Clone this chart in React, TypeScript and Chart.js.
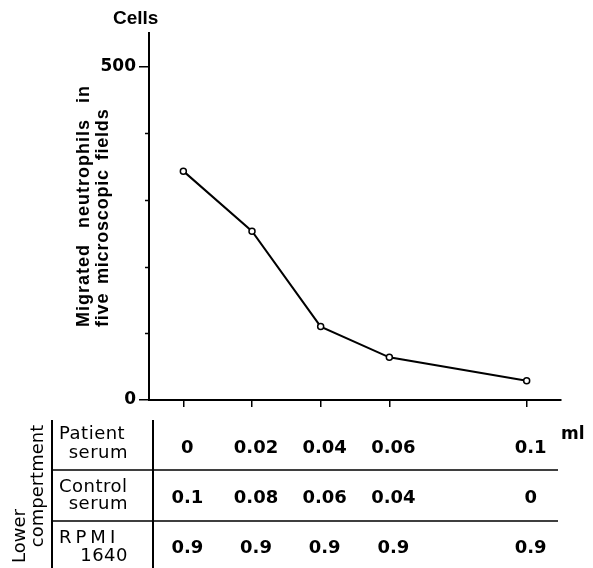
import React, { useEffect, useRef } from "react";
import { Chart, registerables } from "chart.js";

Chart.register(...registerables);

// Patient serum in lower compartment (ml) – x positions
const doses = [0, 0.02, 0.04, 0.06, 0.1];
// Migrated neutrophils in five microscopic fields (cells)
const migratedCells = [343, 253, 110, 64, 29];
const yMajorTicks = [0, 500];
const yMinorTicks = [100, 200, 300, 400];
// Table rows
const rowLabels = [
  ["Patient", "serum"],
  ["Control", "serum"],
  ["RPMI", "1640"],
];
const patientSerum = ["0", "0.02", "0.04", "0.06", "0.1"];
const controlSerum = ["0.1", "0.08", "0.06", "0.04", "0"];
const rpmi1640 = ["0.9", "0.9", "0.9", "0.9", "0.9"];

const W = 593;
const H = 568;

const overlay = {
  id: "overlay",
  afterDraw(chart: any) {
    const ctx = chart.ctx as CanvasRenderingContext2D;
    const x = chart.scales.x;
    const y = chart.scales.y;
    ctx.save();
    ctx.fillStyle = "#000";
    ctx.strokeStyle = "#000";

    // minor y ticks
    ctx.lineWidth = 1.5;
    const axisX = chart.chartArea.left;
    yMinorTicks.forEach((v) => {
      const py = Math.round(y.getPixelForValue(v)) + 0.5;
      ctx.beginPath();
      ctx.moveTo(axisX - 4, py);
      ctx.lineTo(axisX, py);
      ctx.stroke();
    });

    // "Cells"
    ctx.font = 'bold 19px "Liberation Sans"';
    ctx.textAlign = "left";
    ctx.textBaseline = "alphabetic";
    ctx.fillText("Cells", 113, 24);

    // y title (rotated)
    ctx.save();
    ctx.font = 'bold 18px "Liberation Sans"';
    ctx.textAlign = "left";
    const yt = [
      ["Migrated neutrophils in", 89, "1px", "10px"],
      ["five microscopic fields", 108, "0.8px", "3px"],
    ] as [string, number, string, string][];
    yt.forEach(([t, bx, ls, ws]) => {
      ctx.save();
      (ctx as any).letterSpacing = ls;
      (ctx as any).wordSpacing = ws;
      ctx.translate(bx, 327);
      ctx.rotate(-Math.PI / 2);
      ctx.fillText(t, 0, 0);
      ctx.restore();
    });
    ctx.restore();

    // Lower compertment (rotated)
    ctx.save();
    ctx.font = '18px "DejaVu Sans"';
    ctx.textAlign = "center";
    const lc = [
      ["Lower", 25, 536],
      ["compertment", 43, 486],
    ] as [string, number, number][];
    lc.forEach(([t, bx, cy]) => {
      ctx.save();
      ctx.translate(bx, cy);
      ctx.rotate(-Math.PI / 2);
      ctx.fillText(t, 0, 0);
      ctx.restore();
    });
    ctx.restore();

    // table lines
    ctx.lineWidth = 2;
    ctx.beginPath();
    ctx.moveTo(52, 420);
    ctx.lineTo(52, H);
    ctx.moveTo(153, 420);
    ctx.lineTo(153, H);
    ctx.stroke();
    ctx.lineWidth = 1.5;
    ctx.beginPath();
    ctx.moveTo(52, 470);
    ctx.lineTo(558, 470);
    ctx.moveTo(52, 521);
    ctx.lineTo(558, 521);
    ctx.stroke();

    // row labels
    ctx.save();
    ctx.font = '18px "DejaVu Sans"';
    (ctx as any).letterSpacing = "0.5px";
    const rowTop = [439, 492, 543];
    const rowBot = [458, 509, 561];
    rowLabels.forEach((pair, i) => {
      ctx.textAlign = "left";
      if (pair[0] === "RPMI") {
        (ctx as any).letterSpacing = "4px";
        ctx.fillText(pair[0], 59, rowTop[i]);
        (ctx as any).letterSpacing = "0.5px";
      } else {
        ctx.fillText(pair[0], 59, rowTop[i]);
      }
      ctx.textAlign = "right";
      ctx.fillText(pair[1], 128, rowBot[i]);
    });
    ctx.restore();

    // values
    ctx.save();
    ctx.font = 'bold 18px "DejaVu Sans"';
    ctx.textAlign = "center";
    const rows = [patientSerum, controlSerum, rpmi1640];
    const baselines = [453, 503, 553];
    rows.forEach((r, i) => {
      r.forEach((t, j) => {
        ctx.fillText(t, x.getPixelForValue(doses[j]) + 4, baselines[i]);
      });
    });
    ctx.restore();

    // ml
    ctx.font = 'bold 17px "DejaVu Sans"';
    ctx.textAlign = "left";
    ctx.fillText("ml", 561, 439);

    ctx.restore();
  },
};

export default function App() {
  const ref = useRef<HTMLCanvasElement | null>(null);
  useEffect(() => {
    if (!ref.current) return;
    const chart = new Chart(ref.current, {
      type: "line",
      data: {
        datasets: [
          {
            data: doses.map((d, i) => ({ x: d, y: migratedCells[i] })),
            borderColor: "#000",
            borderWidth: 2,
            pointRadius: 3,
            pointBackgroundColor: "#fff",
            pointBorderColor: "#000",
            pointBorderWidth: 1.5,
            tension: 0,
            fill: false,
          },
        ],
      },
      options: {
        responsive: false,
        animation: false,
        devicePixelRatio: 1,
        layout: { padding: { top: 33, right: 32, left: 0, bottom: 0 } },
        plugins: { legend: { display: false }, tooltip: { enabled: false } },
        scales: {
          x: {
            type: "linear",
            min: -0.01,
            max: 0.11,
            afterFit(scale: any) {
              scale.height = 168;
            },
            afterBuildTicks(scale: any) {
              scale.ticks = doses.map((v) => ({ value: v }));
            },
            ticks: { autoSkip: false, callback: () => "", padding: 0 },
            grid: {
              display: true,
              drawOnChartArea: false,
              drawTicks: true,
              tickLength: 7,
              color: "#000",
              lineWidth: 1.5,
            },
            border: { display: true, color: "#000", width: 2 },
          },
          y: {
            type: "linear",
            min: 0,
            max: 550,
            afterFit(scale: any) {
              scale.width = 149;
            },
            afterBuildTicks(scale: any) {
              scale.ticks = yMajorTicks.map((v) => ({ value: v }));
            },
            ticks: {
              autoSkip: false,
              color: "#000",
              padding: 3,
              font: { family: "DejaVu Sans", weight: "bold", size: 17 },
            },
            grid: {
              display: true,
              drawOnChartArea: false,
              drawTicks: true,
              tickLength: 10,
              color: "#000",
              lineWidth: 1.5,
            },
            border: { display: true, color: "#000", width: 2 },
          },
        },
      },
      plugins: [overlay],
    });
    return () => chart.destroy();
  }, []);
  return (
    <div style={{ position: "absolute", left: 0, top: 0, width: W, height: H, background: "#fff" }}>
      <canvas ref={ref} width={W} height={H} style={{ display: "block" }} />
    </div>
  );
}
